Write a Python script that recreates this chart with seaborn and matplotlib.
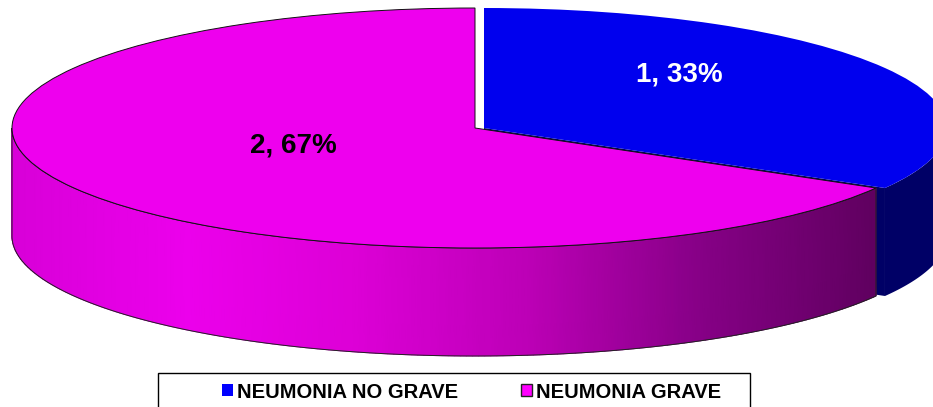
import numpy as np
import matplotlib
matplotlib.use("Agg")
import matplotlib.pyplot as plt
from matplotlib.patches import Patch, Polygon, Rectangle
import seaborn as sns

# Datos del grafico
categories = ["NEUMONIA NO GRAVE", "NEUMONIA GRAVE"]
values = [1, 2]
percents = [33, 67]

# Colores
TOP_COLORS = ["#0000EE", "#EE00EE"]
LEGEND_COLORS = ["#0000FF", "#FF00FF"]
BLUE_WALL = "#000066"
WALL_SHADES = ["#D800D8", "#EC00EC", "#DC00D6", "#BC00B6", "#860086", "#600060"]

# Geometria en pixeles de la imagen
WIDTH, HEIGHT = 933, 407
CX, CY = 475, 128
RX, RY = 463, 120
DEPTH = 108 / RY
GAP = 9 / RX


def wall(ax, wedge, dx, color=None, cmap=None, zorder=1):
    """Dibuja la pared lateral visible de una porcion."""
    start = max(wedge.theta1, -180)
    end = min(wedge.theta2, 0)
    theta = np.radians(np.linspace(start, end, 200))
    xs = dx + np.cos(theta)
    top = np.sin(theta)
    bottom = top - DEPTH
    outline = np.r_[np.c_[xs, top], np.c_[xs, bottom][::-1]]
    if cmap is None:
        ax.add_patch(Polygon(outline, facecolor=color, edgecolor="none", zorder=zorder))
    else:
        shade = np.vstack([xs, xs])
        ax.pcolormesh(np.vstack([xs, xs]), np.vstack([top, bottom]), shade,
                      cmap=cmap, vmin=xs.min(), vmax=xs.max(),
                      shading="gouraud", zorder=zorder)
        ax.add_patch(Polygon(outline, fill=False, edgecolor="#222222", linewidth=0.7,
                             zorder=zorder + 0.1))


def main():
    sns.set_theme(style="white")
    plt.rcParams["font.family"] = ["Liberation Sans", "DejaVu Sans"]

    fig = plt.figure(figsize=(WIDTH / 100, HEIGHT / 100), dpi=100, facecolor="white")
    ax = fig.add_axes([0, 0, 1, 1])

    wedges, _ = ax.pie(values, colors=TOP_COLORS, startangle=90, counterclock=False,
                       wedgeprops={"zorder": 3})
    blue, magenta = wedges
    blue.set_center((GAP, 0))
    blue.set_edgecolor("none")
    magenta.set_edgecolor("#111111")
    magenta.set_linewidth(0.7)

    # Paredes laterales
    edge = np.radians(blue.theta1)
    ex, ey = GAP + np.cos(edge), np.sin(edge)
    ax.add_patch(Polygon([(GAP, 0), (ex, ey), (ex, ey - DEPTH), (GAP, -DEPTH)],
                         facecolor=BLUE_WALL, edgecolor="none", zorder=1))
    wall(ax, blue, GAP, color=BLUE_WALL, zorder=1)
    wall(ax, magenta, 0, cmap=sns.blend_palette(WALL_SHADES, as_cmap=True), zorder=2)

    ax.set_aspect("auto")
    ax.set_xlim(-CX / RX, (WIDTH - CX) / RX)
    ax.set_ylim((CY - HEIGHT) / RY, CY / RY)
    ax.axis("off")

    # Etiquetas
    label_style = {"fontsize": 20, "fontweight": "bold", "ha": "center", "va": "center", "zorder": 5}
    ax.text((679 - CX) / RX, (CY - 74) / RY, f"{values[0]}, {percents[0]}%", color="white", **label_style)
    ax.text((293 - CX) / RX, (CY - 145.5) / RY, f"{values[1]}, {percents[1]}%", color="black", **label_style)

    # Leyenda con marco cortado por el borde inferior
    fig.add_artist(Rectangle((158 / WIDTH, -0.05), 592 / WIDTH, 0.05 + (HEIGHT - 373) / HEIGHT,
                             transform=fig.transFigure, facecolor="white",
                             edgecolor="black", linewidth=1, zorder=6))
    handles = [Patch(facecolor=LEGEND_COLORS[0], edgecolor="none"),
               Patch(facecolor=LEGEND_COLORS[1], edgecolor="#222222", linewidth=1)]
    legend = fig.legend(handles, categories, ncol=2, frameon=False, labelcolor="black",
                        loc="center left", bbox_to_anchor=(222 / WIDTH, (HEIGHT - 392) / HEIGHT),
                        borderpad=0, borderaxespad=0, handlelength=0.55, handleheight=0.55,
                        handletextpad=0.2, columnspacing=3.1, prop={"weight": "bold", "size": 14.5})
    legend.set_zorder(7)

    fig.savefig("out.png", dpi=100)
    plt.close(fig)


if __name__ == "__main__":
    main()
